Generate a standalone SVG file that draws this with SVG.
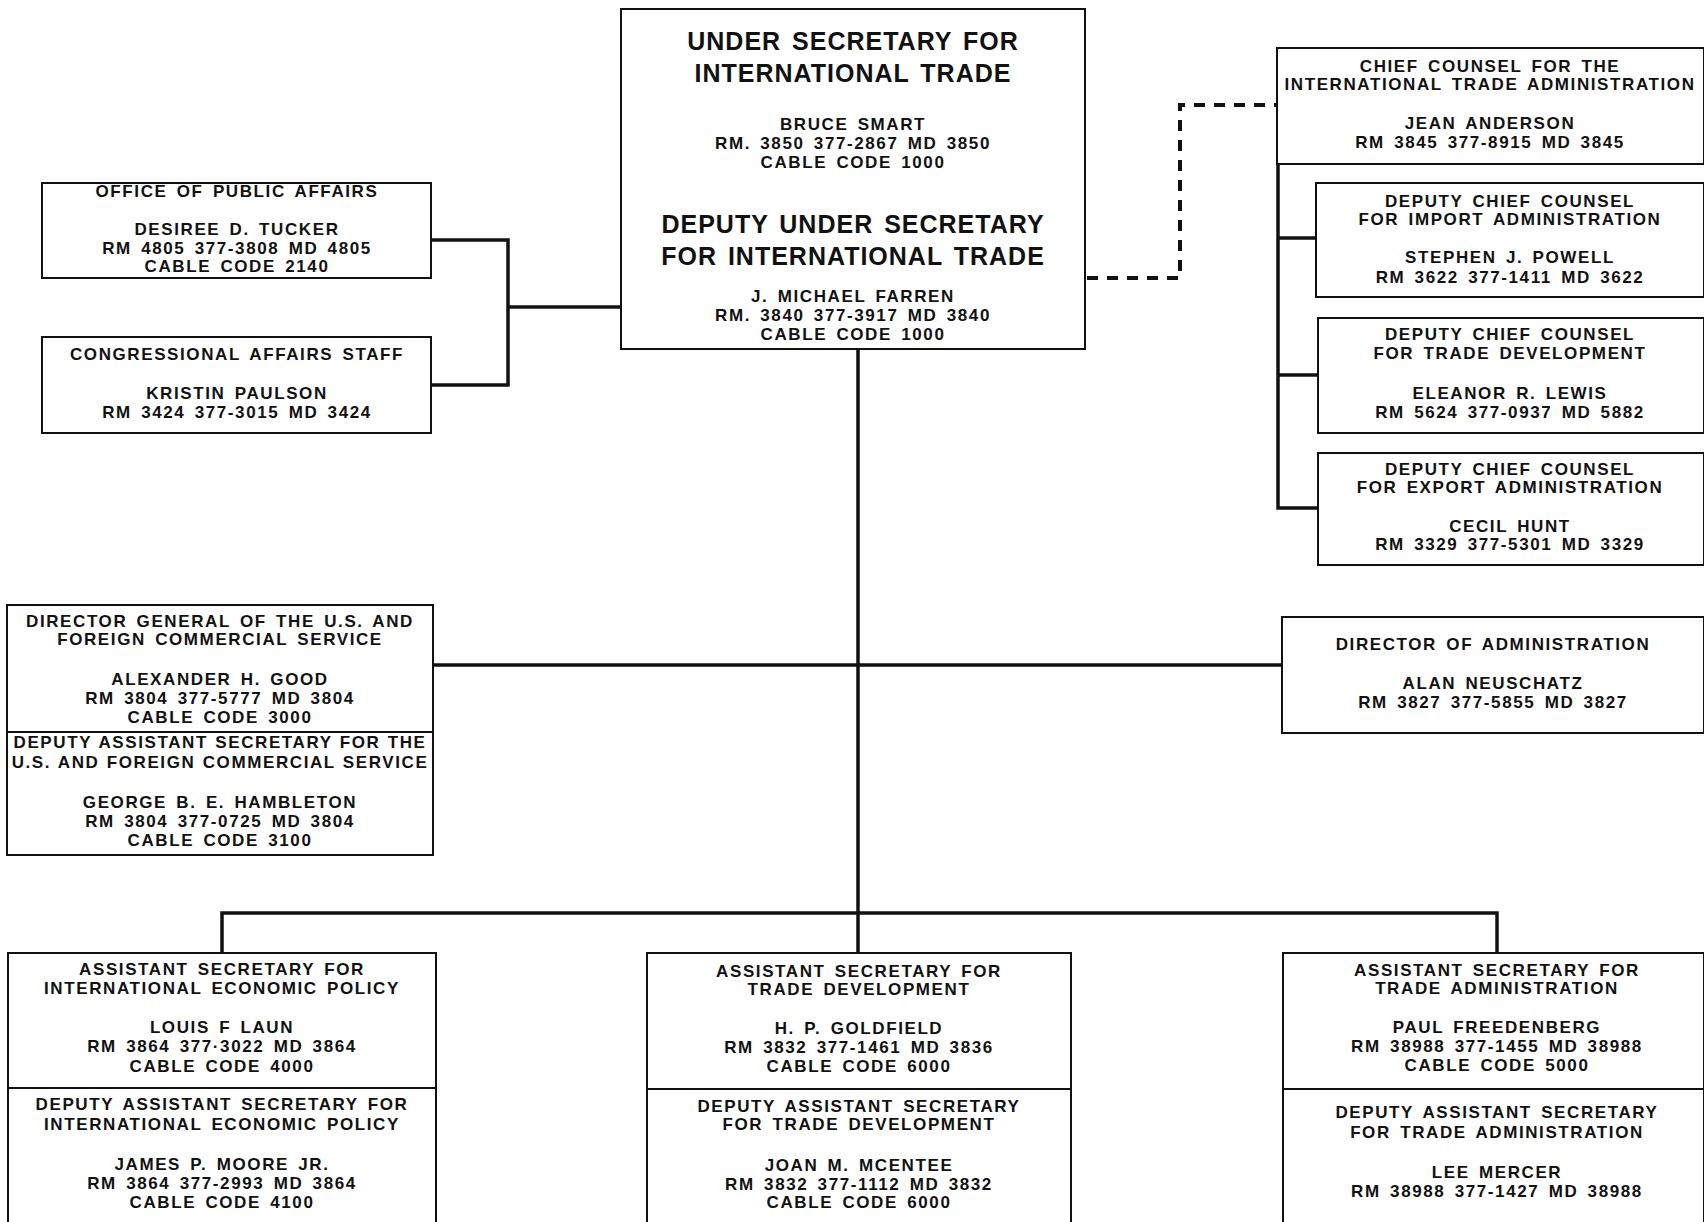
<svg xmlns="http://www.w3.org/2000/svg" width="1704" height="1222" viewBox="0 0 1704 1222">
<style>
.bg{fill:#fff}
.box{fill:#fff;stroke:#111;stroke-width:2}
.div{stroke:#111;stroke-width:2}
.conn{fill:none;stroke:#111;stroke-width:3.5}
.dash{fill:none;stroke:#111;stroke-width:4;stroke-dasharray:11 9}
text{font-family:"Liberation Sans",Arial,sans-serif;font-weight:bold;fill:#111;text-anchor:middle}
.big{font-size:25px;letter-spacing:1px;word-spacing:3px}
.sm{font-size:17px;letter-spacing:1.6px;word-spacing:3px}
</style>
<rect class="bg" x="0" y="0" width="1704" height="1222"/>

<g id="connectors">
  <path class="conn" d="M858,348 V953"/>
  <path class="conn" d="M433,665 H1282"/>
  <path class="conn" d="M222,953 V913 H1497 V953"/>
  <path class="conn" d="M431,240 H508 V385 H431"/>
  <path class="conn" d="M508,307 H621"/>
  <path class="conn" d="M1278,164 V508 H1318"/>
  <path class="conn" d="M1278,238 H1316"/>
  <path class="conn" d="M1278,375 H1318"/>
  <path class="dash" d="M1087,278 H1180 V105 H1277"/>
</g>

<g id="under-secretary">
  <rect class="box" x="621" y="9" width="464" height="340"/>
  <text class="big" x="853" y="50">UNDER SECRETARY FOR</text>
  <text class="big" x="853" y="82">INTERNATIONAL TRADE</text>
  <text class="sm" x="853" y="130">BRUCE SMART</text>
  <text class="sm" x="853" y="149">RM. 3850 377-2867 MD 3850</text>
  <text class="sm" x="853" y="168">CABLE CODE 1000</text>
  <text class="big" x="853" y="233">DEPUTY UNDER SECRETARY</text>
  <text class="big" x="853" y="265">FOR INTERNATIONAL TRADE</text>
  <text class="sm" x="853" y="302">J. MICHAEL FARREN</text>
  <text class="sm" x="853" y="321">RM. 3840 377-3917 MD 3840</text>
  <text class="sm" x="853" y="340">CABLE CODE 1000</text>
</g>

<g id="chief-counsel">
  <rect class="box" x="1277" y="48" width="427" height="116"/>
  <text class="sm" x="1490" y="72">CHIEF COUNSEL FOR THE</text>
  <text class="sm" x="1490" y="90">INTERNATIONAL TRADE ADMINISTRATION</text>
  <text class="sm" x="1490" y="129">JEAN ANDERSON</text>
  <text class="sm" x="1490" y="148">RM 3845 377-8915 MD 3845</text>
</g>

<g id="deputy-counsel-import">
  <rect class="box" x="1316" y="183" width="388" height="114"/>
  <text class="sm" x="1510" y="207">DEPUTY CHIEF COUNSEL</text>
  <text class="sm" x="1510" y="225">FOR IMPORT ADMINISTRATION</text>
  <text class="sm" x="1510" y="263">STEPHEN J. POWELL</text>
  <text class="sm" x="1510" y="283">RM 3622 377-1411 MD 3622</text>
</g>

<g id="deputy-counsel-trade-dev">
  <rect class="box" x="1318" y="318" width="386" height="115"/>
  <text class="sm" x="1510" y="340">DEPUTY CHIEF COUNSEL</text>
  <text class="sm" x="1510" y="359">FOR TRADE DEVELOPMENT</text>
  <text class="sm" x="1510" y="399">ELEANOR R. LEWIS</text>
  <text class="sm" x="1510" y="418">RM 5624 377-0937 MD 5882</text>
</g>

<g id="deputy-counsel-export">
  <rect class="box" x="1318" y="453" width="386" height="112"/>
  <text class="sm" x="1510" y="475">DEPUTY CHIEF COUNSEL</text>
  <text class="sm" x="1510" y="493">FOR EXPORT ADMINISTRATION</text>
  <text class="sm" x="1510" y="532">CECIL HUNT</text>
  <text class="sm" x="1510" y="550">RM 3329 377-5301 MD 3329</text>
</g>

<g id="public-affairs">
  <rect class="box" x="42" y="183" width="389" height="95"/>
  <text class="sm" x="237" y="197">OFFICE OF PUBLIC AFFAIRS</text>
  <text class="sm" x="237" y="235">DESIREE D. TUCKER</text>
  <text class="sm" x="237" y="254">RM 4805 377-3808 MD 4805</text>
  <text class="sm" x="237" y="272">CABLE CODE 2140</text>
</g>

<g id="congressional-affairs">
  <rect class="box" x="42" y="337" width="389" height="96"/>
  <text class="sm" x="237" y="360">CONGRESSIONAL AFFAIRS STAFF</text>
  <text class="sm" x="237" y="399">KRISTIN PAULSON</text>
  <text class="sm" x="237" y="418">RM 3424 377-3015 MD 3424</text>
</g>

<g id="director-general">
  <rect class="box" x="7" y="605" width="426" height="250"/>
  <line class="div" x1="7" y1="732" x2="433" y2="732"/>
  <text class="sm" x="220" y="627">DIRECTOR GENERAL OF THE U.S. AND</text>
  <text class="sm" x="220" y="645">FOREIGN COMMERCIAL SERVICE</text>
  <text class="sm" x="220" y="685">ALEXANDER H. GOOD</text>
  <text class="sm" x="220" y="704">RM 3804 377-5777 MD 3804</text>
  <text class="sm" x="220" y="723">CABLE CODE 3000</text>
  <text class="sm" x="220" y="748" style="word-spacing:1px">DEPUTY ASSISTANT SECRETARY FOR THE</text>
  <text class="sm" x="220" y="768" style="word-spacing:1px">U.S. AND FOREIGN COMMERCIAL SERVICE</text>
  <text class="sm" x="220" y="808">GEORGE B. E. HAMBLETON</text>
  <text class="sm" x="220" y="827">RM 3804 377-0725 MD 3804</text>
  <text class="sm" x="220" y="846">CABLE CODE 3100</text>
</g>

<g id="director-administration">
  <rect class="box" x="1282" y="617" width="422" height="116"/>
  <text class="sm" x="1493" y="650">DIRECTOR OF ADMINISTRATION</text>
  <text class="sm" x="1493" y="689">ALAN NEUSCHATZ</text>
  <text class="sm" x="1493" y="708">RM 3827 377-5855 MD 3827</text>
</g>

<g id="assistant-iep">
  <rect class="box" x="8" y="953" width="428" height="280"/>
  <line class="div" x1="8" y1="1088" x2="436" y2="1088"/>
  <text class="sm" x="222" y="975">ASSISTANT SECRETARY FOR</text>
  <text class="sm" x="222" y="994">INTERNATIONAL ECONOMIC POLICY</text>
  <text class="sm" x="222" y="1033">LOUIS F LAUN</text>
  <text class="sm" x="222" y="1052">RM 3864 377·3022 MD 3864</text>
  <text class="sm" x="222" y="1072">CABLE CODE 4000</text>
  <text class="sm" x="222" y="1110">DEPUTY ASSISTANT SECRETARY FOR</text>
  <text class="sm" x="222" y="1130">INTERNATIONAL ECONOMIC POLICY</text>
  <text class="sm" x="222" y="1170">JAMES P. MOORE JR.</text>
  <text class="sm" x="222" y="1189">RM 3864 377-2993 MD 3864</text>
  <text class="sm" x="222" y="1208">CABLE CODE 4100</text>
</g>

<g id="assistant-td">
  <rect class="box" x="647" y="953" width="424" height="280"/>
  <line class="div" x1="647" y1="1089" x2="1071" y2="1089"/>
  <text class="sm" x="859" y="977">ASSISTANT SECRETARY FOR</text>
  <text class="sm" x="859" y="995">TRADE DEVELOPMENT</text>
  <text class="sm" x="859" y="1034">H. P. GOLDFIELD</text>
  <text class="sm" x="859" y="1053">RM 3832 377-1461 MD 3836</text>
  <text class="sm" x="859" y="1072">CABLE CODE 6000</text>
  <text class="sm" x="859" y="1112">DEPUTY ASSISTANT SECRETARY</text>
  <text class="sm" x="859" y="1130">FOR TRADE DEVELOPMENT</text>
  <text class="sm" x="859" y="1171">JOAN M. MCENTEE</text>
  <text class="sm" x="859" y="1190">RM 3832 377-1112 MD 3832</text>
  <text class="sm" x="859" y="1208">CABLE CODE 6000</text>
</g>

<g id="assistant-ta">
  <rect class="box" x="1283" y="953" width="421" height="280"/>
  <line class="div" x1="1283" y1="1089" x2="1704" y2="1089"/>
  <text class="sm" x="1497" y="976">ASSISTANT SECRETARY FOR</text>
  <text class="sm" x="1497" y="994">TRADE ADMINISTRATION</text>
  <text class="sm" x="1497" y="1033">PAUL FREEDENBERG</text>
  <text class="sm" x="1497" y="1052">RM 38988 377-1455 MD 38988</text>
  <text class="sm" x="1497" y="1071">CABLE CODE 5000</text>
  <text class="sm" x="1497" y="1118">DEPUTY ASSISTANT SECRETARY</text>
  <text class="sm" x="1497" y="1138">FOR TRADE ADMINISTRATION</text>
  <text class="sm" x="1497" y="1178">LEE MERCER</text>
  <text class="sm" x="1497" y="1197">RM 38988 377-1427 MD 38988</text>
</g>
</svg>
